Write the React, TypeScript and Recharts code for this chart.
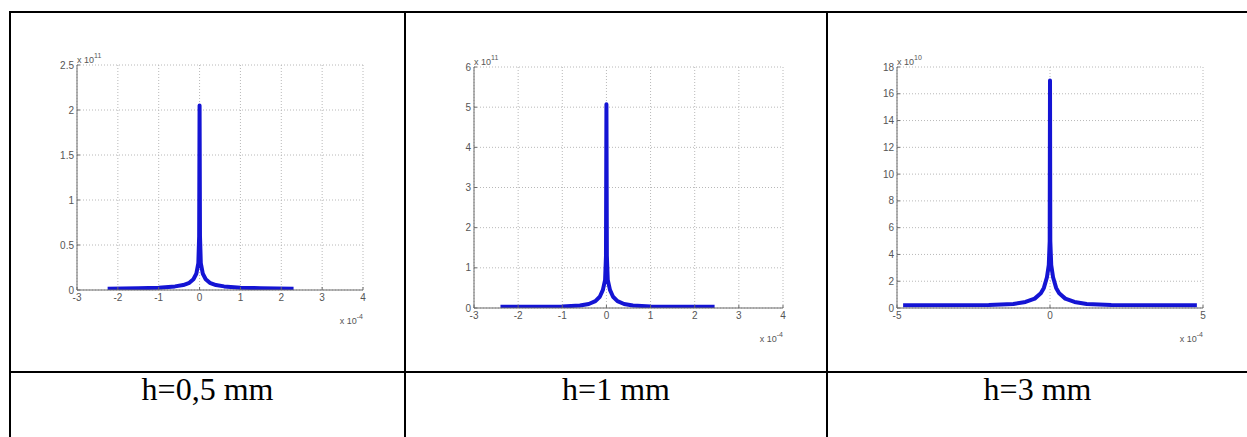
import React from 'react';
import { LineChart, Line, XAxis, YAxis, CartesianGrid } from 'recharts';

// h = 0,5 mm  (x in 1e-4, y in 1e11)
const xHalf = [-2.25, -1.5, -1, -0.6, -0.4, -0.25, -0.15, -0.08, -0.03, -0.01, 0, 0.01, 0.03, 0.08, 0.15, 0.25, 0.4, 0.6, 1, 1.5, 2.3];
const yHalf = [0.015, 0.02, 0.025, 0.04, 0.055, 0.08, 0.12, 0.18, 0.3, 0.6, 2.05, 0.6, 0.3, 0.18, 0.12, 0.08, 0.055, 0.04, 0.025, 0.02, 0.015];

// h = 1 mm  (x in 1e-4, y in 1e11)
const xOne = [-2.4, -1, -0.6, -0.4, -0.25, -0.15, -0.08, -0.03, -0.01, 0, 0.01, 0.03, 0.08, 0.15, 0.25, 0.4, 0.6, 1, 2.45];
const yOne = [0.03, 0.04, 0.06, 0.1, 0.17, 0.28, 0.45, 0.7, 1.3, 5.07, 1.3, 0.7, 0.45, 0.28, 0.17, 0.1, 0.06, 0.04, 0.03];

// h = 3 mm  (x in 1e-4, y in 1e10)
const xThree = [-4.8, -2, -1.2, -0.8, -0.5, -0.3, -0.2, -0.1, -0.04, -0.01, 0, 0.01, 0.04, 0.1, 0.2, 0.3, 0.5, 0.8, 1.2, 2, 4.8];
const yThree = [0.2, 0.22, 0.3, 0.45, 0.7, 1.1, 1.5, 2.3, 3.2, 5, 17, 5, 3.2, 2.3, 1.5, 1.1, 0.7, 0.45, 0.3, 0.22, 0.2];

const xTicksNarrow = [-3, -2, -1, 0, 1, 2, 3, 4];
const xTicksWide = [-5, 0, 5];
const yTicksHalf = [0, 0.5, 1, 1.5, 2, 2.5];
const yTicksOne = [0, 1, 2, 3, 4, 5, 6];
const yTicksThree = [0, 2, 4, 6, 8, 10, 12, 14, 16, 18];

const captions = ['h=0,5 mm', 'h=1 mm', 'h=3 mm'];

const toRows = (xs: number[], ys: number[]) => xs.map((x, i) => ({ x, y: ys[i] }));

const AXIS = '#6a6a6a';
const TICK_TEXT = { fill: '#555', fontSize: 10, fontFamily: 'Liberation Sans, Arial, sans-serif' };
const BLUE = '#1414d4';

interface PlotProps {
  left: number;
  top: number;
  plotW: number;
  plotH: number;
  xs: number[];
  ys: number[];
  xDomain: [number, number];
  xTicks: number[];
  yDomain: [number, number];
  yTicks: number[];
  yExp: string;
}

const Y_W = 30;
const M_TOP = 10;
const M_RIGHT = 12;
const X_H = 20;

const PeakPlot = ({ left, top, plotW, plotH, xs, ys, xDomain, xTicks, yDomain, yTicks, yExp }: PlotProps) => {
  const data = toRows(xs, ys);
  const labelStyle: React.CSSProperties = {
    position: 'absolute', fontSize: 9, color: '#555',
    fontFamily: 'Liberation Sans, Arial, sans-serif', whiteSpace: 'nowrap', lineHeight: '10px',
  };
  const supStyle: React.CSSProperties = { fontSize: 7, verticalAlign: 5 };
  return (
    <>
      <div style={{ position: 'absolute', left: left - Y_W, top: top - M_TOP }}>
        <LineChart
          width={plotW + Y_W + M_RIGHT}
          height={plotH + M_TOP + X_H}
          data={data}
          margin={{ top: M_TOP, right: M_RIGHT, bottom: 0, left: 0 }}
        >
          <CartesianGrid stroke="#b8b8b8" strokeDasharray="1 2" />
          <XAxis
            dataKey="x"
            type="number"
            domain={xDomain}
            ticks={xTicks}
            allowDataOverflow
            height={X_H}
            stroke={AXIS}
            tickSize={-3}
            tickMargin={7}
            tick={TICK_TEXT}
          />
          <YAxis
            type="number"
            domain={yDomain}
            ticks={yTicks}
            allowDataOverflow
            width={Y_W}
            stroke={AXIS}
            tickSize={-3}
            tickMargin={6}
            tick={TICK_TEXT}
          />
          <Line
            type="linear"
            dataKey="y"
            stroke={BLUE}
            strokeWidth={4}
            strokeLinejoin="round"
            dot={false}
            isAnimationActive={false}
          />
        </LineChart>
      </div>
      <div style={{ ...labelStyle, left: left, top: top - 14 }}>
        x 10<span style={supStyle}>{yExp}</span>
      </div>
      <div style={{ ...labelStyle, right: 1247 - (left + plotW), top: top + plotH + 22 }}>
        x 10<span style={supStyle}>-4</span>
      </div>
    </>
  );
};

const line = (l: number, t: number, w: number, h: number) => (
  <div style={{ position: 'absolute', left: l, top: t, width: w, height: h, background: '#000' }} />
);

const capStyle = (l: number, w: number): React.CSSProperties => ({
  position: 'absolute', left: l, width: w, top: 373, textAlign: 'center',
  fontFamily: '"Liberation Serif", "Times New Roman", serif', fontSize: 32, lineHeight: '32px', color: '#000',
});

export default function App() {
  return (
    <div style={{ position: 'absolute', left: 0, top: 0, width: 1247, height: 437, background: '#fff', overflow: 'hidden' }}>
      {line(9, 11, 1238, 2)}
      {line(9, 371, 1238, 2)}
      {line(9, 11, 2, 426)}
      {line(404, 11, 2, 426)}
      {line(826, 11, 2, 426)}

      <PeakPlot left={77} top={65} plotW={286} plotH={225} xs={xHalf} ys={yHalf}
        xDomain={[-3, 4]} xTicks={xTicksNarrow} yDomain={[0, 2.5]} yTicks={yTicksHalf} yExp="11" />
      <PeakPlot left={474} top={67} plotW={309} plotH={241} xs={xOne} ys={yOne}
        xDomain={[-3, 4]} xTicks={xTicksNarrow} yDomain={[0, 6]} yTicks={yTicksOne} yExp="11" />
      <PeakPlot left={897} top={67} plotW={306} plotH={241} xs={xThree} ys={yThree}
        xDomain={[-5, 5]} xTicks={xTicksWide} yDomain={[0, 18]} yTicks={yTicksThree} yExp="10" />

      <div style={capStyle(11, 393)}>{captions[0]}</div>
      <div style={capStyle(406, 420)}>{captions[1]}</div>
      <div style={capStyle(828, 419)}>{captions[2]}</div>
    </div>
  );
}
